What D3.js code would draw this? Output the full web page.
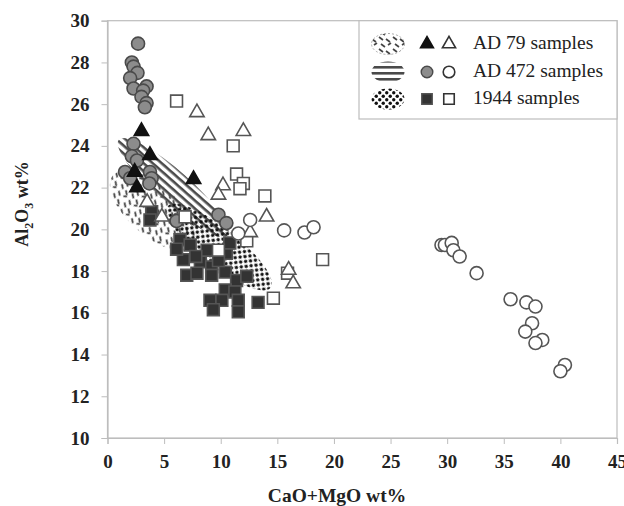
<!DOCTYPE html>
<html>
<head>
<meta charset="utf-8">
<script src="https://cdn.jsdelivr.net/npm/d3@7"></script>
<style>
  body { margin: 0; background: #fff; }
  text { font-family: "Liberation Serif", "Times New Roman", serif; }
</style>
</head>
<body>
<div id="chart"></div>
<script>
/** chart data (CaO+MgO, Al2O3) */
const xTicks = [0, 5, 10, 15, 20, 25, 30, 35, 40, 45];
const yTicks = [10, 12, 14, 16, 18, 20, 22, 24, 26, 28, 30];

const ad79Filled = [[3.0, 24.7], [3.75, 23.55], [2.4, 22.75], [2.6, 22.0], [7.6, 22.4]];
const ad79Open = [
  [7.9, 25.6], [8.9, 24.5], [12.0, 24.7], [10.2, 22.1], [9.8, 21.65],
  [14.05, 20.6], [12.6, 19.85], [4.8, 20.6], [3.5, 21.3], [16.0, 18.05], [16.4, 17.4]];

const ad472Filled = [
  [2.7, 28.9], [2.15, 28.0], [2.3, 27.8], [2.65, 27.5], [2.0, 27.25], [2.3, 26.75],
  [3.45, 26.85], [3.15, 26.65], [3.0, 26.35], [3.45, 26.05], [3.3, 25.85], [2.3, 24.1],
  [2.15, 23.5], [2.6, 23.3], [1.55, 22.75], [2.0, 22.45], [3.75, 22.75], [3.9, 22.45],
  [3.7, 22.2], [6.1, 20.4], [9.8, 20.7], [10.5, 20.3]];
const ad472Open = [
  [12.6, 20.45], [11.55, 19.8], [15.6, 19.95], [17.4, 19.85], [18.2, 20.1],
  [29.5, 19.25], [29.8, 19.25], [30.4, 19.35], [30.55, 19.0], [31.1, 18.7], [32.6, 17.9],
  [35.6, 16.65], [37.0, 16.5], [37.8, 16.3], [37.5, 15.5], [36.9, 15.1], [38.4, 14.7],
  [37.8, 14.55], [40.4, 13.5], [40.0, 13.2]];

const s1944Filled = [
  [3.9, 20.85], [3.75, 20.45], [6.4, 19.5], [7.3, 19.25], [6.7, 18.55], [8.2, 18.45],
  [7.0, 17.8], [7.9, 17.9], [9.2, 18.2], [9.2, 17.8], [10.5, 18.85], [10.8, 19.35],
  [10.4, 17.95], [11.4, 17.55], [12.3, 17.75], [10.4, 17.1], [11.25, 17.0], [9.05, 16.6],
  [10.1, 16.6], [11.55, 16.6], [13.3, 16.5], [9.35, 16.15], [11.55, 16.05], [8.8, 19.0],
  [6.1, 19.05], [7.8, 18.7], [9.8, 18.5]];
const s1944Open = [
  [6.1, 26.15], [11.1, 24.0], [11.4, 22.65], [12.0, 22.2], [11.7, 21.95], [13.9, 21.6],
  [6.85, 20.6], [9.8, 19.0], [12.3, 19.45], [14.65, 16.7], [15.9, 17.9], [19.0, 18.55]];

/** shaded fields: the two tips of each ellipse (data units) */
const fieldTips = {
  ad79: [[0.5, 22.6], [7.6, 19.2]],
  ad472: [[1.0, 24.3], [10.6, 19.7]],
  s1944: [[5.3, 21.1], [14.4, 17.2]]
};
const legendLabels = ['AD 79 samples', 'AD 472 samples', '1944 samples'];

/** canvas */
const width = 624, height = 506;
const mLeft = 107.5, mRight = 617, mTop = 20.7, mBottom = 438;

const svg = d3.select('#chart').append('svg')
    .attr('width', width)
    .attr('height', height);

const x = d3.scaleLinear().domain([0, 45]).range([mLeft, mRight]);
const y = d3.scaleLinear().domain([10, 30]).range([mBottom, mTop]);

/** patterns */
const defs = svg.append('defs');

let pDash = defs.append('pattern')
    .attr('id', 'pDash')
    .attr('patternUnits', 'userSpaceOnUse')
    .attr('width', 14).attr('height', 12);
pDash.append('path').attr('d', 'M1,1 L5,4 M8,3 L12,6 M3,8 L7,11 M10,9 L13,7')
    .attr('stroke', '#444').attr('stroke-width', 1.7).attr('fill', 'none');

let pStripe = defs.append('pattern')
    .attr('id', 'pStripe')
    .attr('patternUnits', 'userSpaceOnUse')
    .attr('width', 8).attr('height', 6);
pStripe.append('rect').attr('x', 0).attr('y', 0).attr('width', 8).attr('height', 2.6)
    .attr('fill', '#4a4a4a');

let pDot = defs.append('pattern')
    .attr('id', 'pDot')
    .attr('patternUnits', 'userSpaceOnUse')
    .attr('width', 7).attr('height', 7);
pDot.append('circle').attr('cx', 1.75).attr('cy', 1.75).attr('r', 1.7).attr('fill', '#111');
pDot.append('circle').attr('cx', 5.25).attr('cy', 5.25).attr('r', 1.7).attr('fill', '#111');

/** frame */
svg.append('rect')
    .attr('x', mLeft).attr('y', mTop)
    .attr('width', mRight - mLeft).attr('height', mBottom - mTop)
    .attr('fill', 'none')
    .attr('stroke', '#bdbdbd')
    .attr('stroke-width', 1.2);

/** axes */
const xAxis = svg.append('g')
    .attr('transform', `translate(0,${mBottom})`)
    .call(d3.axisBottom(x).tickValues(xTicks).tickSize(6).tickPadding(8).tickFormat(d3.format('d')));
const yAxis = svg.append('g')
    .attr('transform', `translate(${mLeft},0)`)
    .call(d3.axisLeft(y).tickValues(yTicks).tickSize(6).tickPadding(12).tickFormat(d3.format('d')));

[xAxis, yAxis].forEach(function (g) {
  g.select('.domain').attr('stroke', '#bdbdbd').attr('stroke-width', 1.2);
  g.selectAll('.tick line').attr('stroke', '#bdbdbd');
  g.selectAll('.tick text')
    .style('font-family', '"Liberation Serif", serif')
    .style('font-size', '19px')
    .style('font-weight', 'bold')
    .attr('fill', '#222');
});
xAxis.selectAll('.tick text').attr('dy', '0.84em');

/** axis titles */
svg.append('text')
    .attr('x', 337).attr('y', 502)
    .attr('text-anchor', 'middle')
    .style('font-size', '19.5px').style('font-weight', 'bold')
    .attr('fill', '#222')
    .text('CaO+MgO wt%');

let yTitle = svg.append('text')
    .attr('transform', 'translate(28,204) rotate(-90)')
    .attr('text-anchor', 'middle')
    .style('font-size', '18px').style('font-weight', 'bold')
    .attr('fill', '#222');
yTitle.append('tspan').text('Al');
yTitle.append('tspan').attr('dy', 5).style('font-size', '12px').text('2');
yTitle.append('tspan').attr('dy', -5).text('O');
yTitle.append('tspan').attr('dy', 5).style('font-size', '12px').text('3');
yTitle.append('tspan').attr('dy', -5).text(' wt%');

/** shaded fields */
function ellipseGeom(tips, halfWidth) {
  let p1 = [x(tips[0][0]), y(tips[0][1])];
  let p2 = [x(tips[1][0]), y(tips[1][1])];
  let cx = (p1[0] + p2[0]) / 2, cy = (p1[1] + p2[1]) / 2;
  let a = Math.hypot(p2[0] - p1[0], p2[1] - p1[1]) / 2;
  let ang = Math.atan2(p2[1] - p1[1], p2[0] - p1[0]) * 180 / Math.PI;
  return { cx: cx, cy: cy, rx: a, ry: halfWidth, ang: ang };
}

const fields = [
  { key: 'ad79', fill: 'url(#pDash)', w: 25 },
  { key: 'ad472', fill: 'url(#pStripe)', w: 17 },
  { key: 's1944', fill: 'url(#pDot)', w: 19 }
];
fields.forEach(function (f) {
  let e = ellipseGeom(fieldTips[f.key], f.w);
  svg.append('ellipse')
      .attr('transform', `translate(${e.cx},${e.cy}) rotate(${e.ang})`)
      .attr('rx', e.rx).attr('ry', e.ry)
      .attr('fill', f.fill)
      .attr('stroke', 'none');
});

/** markers */
const triangle = d3.symbol().type(d3.symbolTriangle).size(90);
const square = d3.symbol().type(d3.symbolSquare).size(140);

function drawSymbols(data, path, fill, stroke) {
  svg.append('g').selectAll('path')
      .data(data)
      .enter()
      .append('path')
      .attr('d', path)
      .attr('transform', (d) => `translate(${x(d[0])},${y(d[1])})`)
      .attr('fill', fill)
      .attr('stroke', stroke)
      .attr('stroke-width', 1.6);
}
function drawCircles(data, fill, stroke) {
  svg.append('g').selectAll('circle')
      .data(data)
      .enter()
      .append('circle')
      .attr('cx', (d) => x(d[0]))
      .attr('cy', (d) => y(d[1]))
      .attr('r', 6.5)
      .attr('fill', fill)
      .attr('stroke', stroke)
      .attr('stroke-width', 1.6);
}

drawSymbols(s1944Filled, square(), '#333', '#555');
drawCircles(ad472Filled, '#8c8c8c', '#4a4a4a');
drawSymbols(ad79Filled, triangle(), '#111', '#111');
drawSymbols(s1944Open, square(), '#fff', '#555');
drawSymbols(ad79Open, triangle(), '#fff', '#555');
drawCircles(ad472Open, '#fff', '#555');

/** legend */
const lg = svg.append('g');
lg.append('rect')
    .attr('x', 359).attr('y', mTop)
    .attr('width', mRight - 359).attr('height', 119 - mTop)
    .attr('fill', '#fff')
    .attr('stroke', '#bdbdbd')
    .attr('stroke-width', 1.2);

const rowY = [44, 72, 99];
const legendFill = ['url(#pDash)', 'url(#pStripe)', 'url(#pDot)'];
rowY.forEach(function (ry, i) {
  lg.append('ellipse')
      .attr('cx', 388).attr('cy', ry)
      .attr('rx', 16.5).attr('ry', 10.5)
      .attr('fill', legendFill[i])
      .attr('stroke', i === 0 ? '#aaa' : 'none')
      .attr('stroke-dasharray', '2,2');
  lg.append('text')
      .attr('x', 473).attr('y', ry + 5)
      .style('font-size', '19.5px')
      .attr('fill', '#222')
      .text(legendLabels[i]);
});
const smallTri = d3.symbol().type(d3.symbolTriangle).size(75)();
const smallSq = d3.symbol().type(d3.symbolSquare).size(110)();
lg.append('path').attr('d', smallTri).attr('transform', `translate(427,${rowY[0]})`)
    .attr('fill', '#111').attr('stroke', '#111').attr('stroke-width', 1.4);
lg.append('path').attr('d', smallTri).attr('transform', `translate(449,${rowY[0]})`)
    .attr('fill', '#fff').attr('stroke', '#333').attr('stroke-width', 1.6);
lg.append('circle').attr('cx', 427).attr('cy', rowY[1]).attr('r', 5.8)
    .attr('fill', '#8c8c8c').attr('stroke', '#4a4a4a').attr('stroke-width', 1.4);
lg.append('circle').attr('cx', 449).attr('cy', rowY[1]).attr('r', 5.8)
    .attr('fill', '#fff').attr('stroke', '#333').attr('stroke-width', 1.6);
lg.append('path').attr('d', smallSq).attr('transform', `translate(427,${rowY[2]})`)
    .attr('fill', '#333').attr('stroke', '#555').attr('stroke-width', 1.4);
lg.append('path').attr('d', smallSq).attr('transform', `translate(449,${rowY[2]})`)
    .attr('fill', '#fff').attr('stroke', '#333').attr('stroke-width', 1.6);
</script>
</body>
</html>
